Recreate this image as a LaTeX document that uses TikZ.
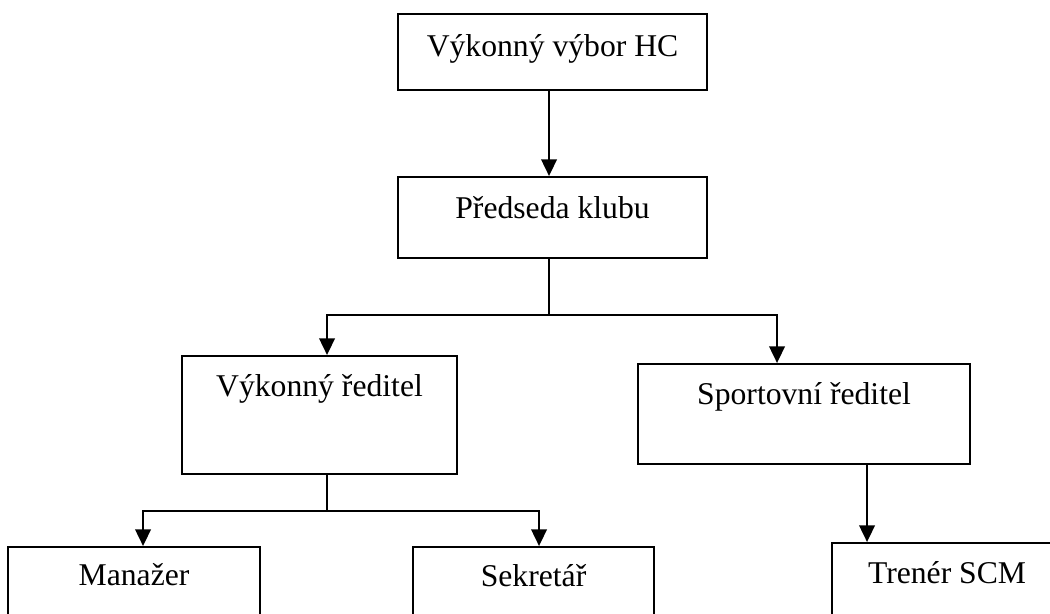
\documentclass[tikz,border=0pt,12pt]{standalone}
\usepackage{fontspec}
\setmainfont{Liberation Serif}
\usetikzlibrary{arrows.meta,calc,positioning}

\begin{document}
\begin{tikzpicture}[x=0.36pt, y=-0.36pt,
    every node/.style={font=\fontsize{11.4}{14}\selectfont},
    orgbox/.style={draw, line width=0.75pt, inner sep=0pt, anchor=north west, align=center},
    conn/.style={line width=0.75pt},
    arr/.style={conn, -{Triangle[length=6pt, width=5.6pt]}}]
    \useasboundingbox (0,0) rectangle (1050,613);
    \clip (0,0) rectangle (1050,613);
    % boxes
    \node[orgbox, minimum width=111.24pt, text height=15.12pt, text depth=12.24pt] (vvhc) at (397,13) {Výkonný výbor HC};
    \node[orgbox, minimum width=111.24pt, text height=14.76pt, text depth=14.4pt] (pk) at (397,176) {Předseda klubu};
    \node[orgbox, minimum width=99pt, text height=14.4pt, text depth=28.08pt] (vr) at (181,355) {Výkonný ředitel};
    \node[orgbox, minimum width=119.52pt, text height=14.4pt, text depth=21.6pt] (sr) at (637,363) {Sportovní ředitel};
    \node[orgbox, minimum width=90.72pt, text height=13.68pt, text depth=23.76pt] (man) at (7,546) {Manažer};
    \node[orgbox, minimum width=86.76pt, text height=14.04pt, text depth=23.76pt] (sek) at (412,546) {Sekretář};
    \node[orgbox, minimum width=82.8pt, text height=14.4pt, text depth=23.76pt] (tr) at (831,542) {Trenér SCM};
    % connectors
    \draw[arr] ([xshift=-1.26pt]vvhc.south) -- ([xshift=-1.26pt]pk.north);
    \coordinate (bus) at ($([xshift=-1.26pt]pk.south)+(0,56)$);
    \draw[conn] ([xshift=-1.26pt]pk.south) -- (bus);
    \draw[arr] (bus) -| ([xshift=2.7pt]vr.north);
    \draw[arr] (bus) -| ([xshift=-9.72pt]sr.north);
    \coordinate (bus2) at ([xshift=2.7pt, yshift=-12.96pt]vr.south);
    \draw[conn] ([xshift=2.7pt]vr.south) -- (bus2);
    \draw[arr] (bus2) -| ([xshift=3.24pt]man.north);
    \draw[arr] (bus2) -| ([xshift=1.98pt]sek.north);
    \draw[arr] ([xshift=22.68pt]sr.south) -- ([xshift=22.68pt]sr.south |- tr.north);
\end{tikzpicture}
\end{document}
